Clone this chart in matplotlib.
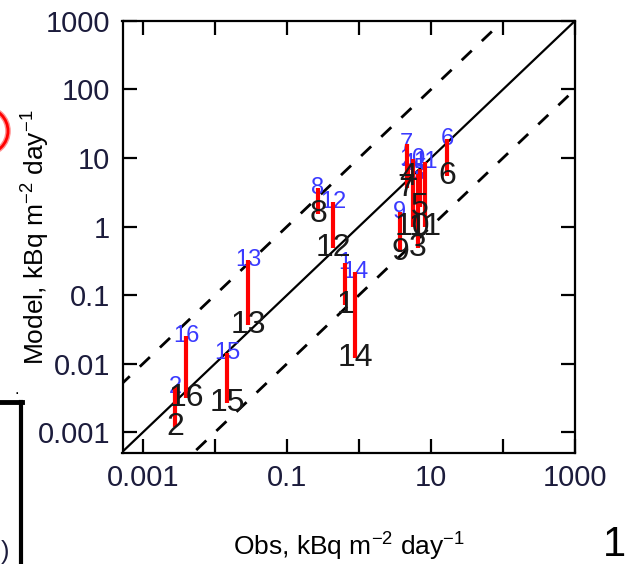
import numpy as np
import matplotlib.pyplot as plt
from matplotlib.patches import Ellipse
from matplotlib.lines import Line2D

plt.rcParams['font.family'] = ['Liberation Sans', 'DejaVu Sans']
plt.rcParams['mathtext.fontset'] = 'custom'
plt.rcParams['mathtext.rm'] = 'Liberation Sans'

stazioni = [1, 2, 3, 4, 5, 6, 7, 8, 9, 10, 11, 12, 13, 14, 15, 16]
obs = [0.64, 0.0028, 6.6, 4.8, 7.0, 16.7, 4.6, 0.27, 3.7, 5.6, 8.3, 0.44, 0.029, 0.88, 0.0147, 0.004]
model_a = [0.29, 0.0045, 5.9, 8.2, 6.9, 18.8, 16.0, 3.6, 1.65, 9.7, 8.7, 2.3, 0.32, 0.22, 0.0144, 0.0255]
model_b = [0.072, 0.0012, 0.48, 5.3, 1.95, 5.5, 3.6, 1.54, 0.43, 1.0, 1.0, 0.48, 0.037, 0.0122, 0.0027, 0.0032]

decadi = [0.001, 0.01, 0.1, 1, 10, 100, 1000]
xlab = ['0.001', '', '0.1', '', '10', '', '1000']
ylab = ['0.001', '0.01', '0.1', '1', '10', '100', '1000']

col_tick = '#1c1c3c'

fig = plt.figure(figsize=(6.25, 5.64), dpi=100)
ax = fig.add_axes([0.196, 0.197, 0.724, 0.766])
ax.set_xscale('log')
ax.set_yscale('log')

# linea 1:1 e fattore 10
xs = np.array([1e-5, 1e5])
ax.plot(xs, xs, c='k', lw=1.6, zorder=2)
ax.plot(xs, xs * 10, c='k', lw=2, ls=(0, (5, 5)), zorder=2)
ax.plot(xs, xs / 10, c='k', lw=2, ls=(0, (5, 5)), zorder=2)

for n, x, ya, yb in zip(stazioni, obs, model_a, model_b):
    ax.plot([x, x], [yb, ya], c='red', lw=3, solid_capstyle='butt', zorder=3)
    ax.text(x, ya, str(n), color='#3a3aff', fontsize=17, ha='center', va='center', zorder=2.5)
    ax.text(x, yb, str(n), color='#1a1a1a', fontsize=23, ha='center', va='center', zorder=4)

ax.set_xlim(0.00052, 1000)
ax.set_ylim(0.0005, 1000)
ax.set_xticks(decadi)
ax.set_xticklabels(xlab)
ax.set_yticks(decadi)
ax.set_yticklabels(ylab)
ax.minorticks_off()
ax.tick_params(direction='in', length=10, width=1.6, top=True, right=True,
               labelsize=21, labelcolor=col_tick)
ax.tick_params(axis='x', pad=8)
ax.tick_params(axis='y', pad=9)
for s in ax.spines.values():
    s.set_linewidth(1.6)

ax.set_xlabel('Obs, kBq m$^{-2}$ day$^{-1}$', fontsize=19, labelpad=27)
ax.set_ylabel('Model, kBq m$^{-2}$ day$^{-1}$', fontsize=19, labelpad=-10)

# pezzi della figura accanto (tagliati)
W, H = 625, 564
fig.add_artist(Ellipse((-15 / W, 1 - 131 / H), 46 / W, 46 / H, transform=fig.transFigure,
                       fill=False, ec='#ff9090', lw=4))
fig.add_artist(Ellipse((-15 / W, 1 - 131 / H), 46 / W, 46 / H, transform=fig.transFigure,
                       fill=False, ec='red', lw=2))
fig.add_artist(Line2D([0, 22 / W], [1 - 402 / H, 1 - 402 / H], transform=fig.transFigure, c='k', lw=3.5))
fig.add_artist(Line2D([21 / W, 21 / W], [1 - 402 / H, 0], transform=fig.transFigure, c='k', lw=3))
fig.text(17 / W, 1 - 390 / H, '.', fontsize=12, ha='center', va='center')
fig.text(5 / W, 1 - 552 / H, ')', fontsize=18, color=col_tick, ha='center', va='center')
fig.text(614 / W, 1 - 545 / H, '1', fontsize=30, ha='center', va='center')

plt.savefig('out.png', dpi=100)
